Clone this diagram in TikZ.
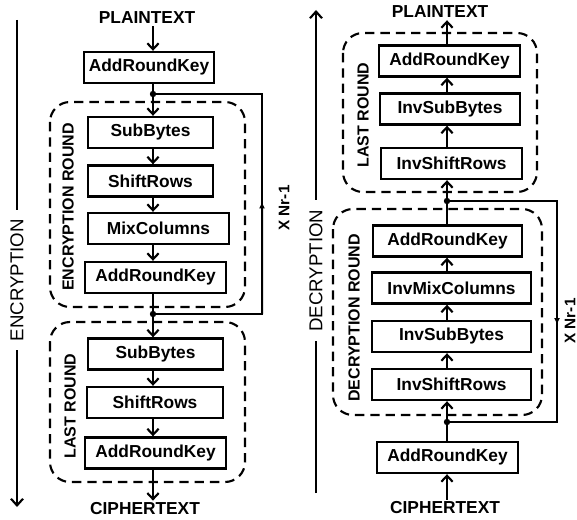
\documentclass[tikz,border=0pt]{standalone}
\usepackage{fontspec}
\setmainfont{Liberation Sans}
\usetikzlibrary{arrows.meta,calc}

\begin{document}
\begin{tikzpicture}[
  x=0.75pt, y=-0.75pt,
  line join=miter,
  font=\bfseries\fontsize{13}{15}\selectfont,
  stage/.style={draw=black, line width=1.8pt, minimum height=23.25pt, inner sep=0pt},
  term/.style={inner sep=1.5pt},
  flow/.style={-{Straight Barb[length=4.5pt,width=8.5pt]}, line width=1.6pt},
  roundbox/.style={draw=black, line width=1.6pt, dash pattern=on 7pt off 4.5pt, rounded corners=15pt},
  loopline/.style={draw=black, line width=1.5pt},
  looptip/.style={-{Latex[length=5pt,width=4.5pt]}, line width=1.5pt},
  tag/.style={rotate=90, font=\bfseries\fontsize{12}{14}\selectfont},
  nrtag/.style={rotate=90, font=\bfseries\fontsize{11.5}{13}\selectfont},
  side/.style={line width=1.6pt},
  sidelabel/.style={rotate=90, fill=white, inner xsep=7pt, inner ysep=2pt, font=\mdseries\fontsize{14}{16}\selectfont}
]
\useasboundingbox (0,0) rectangle (577,520);

% Column axes for the data path.
\coordinate (axL) at (153,0);
\coordinate (axR) at (447,0);

% Round groups.
\draw[roundbox] (50,102) rectangle (245,307);
\draw[roundbox] (50,322) rectangle (245,482);
\draw[roundbox] (343,33) rectangle (537,192);
\draw[roundbox] (333,209) rectangle (542,415);

% Encryption stages.
\node[term] (ptL) at (147,18) {PLAINTEXT};
\node[stage, minimum width=97.5pt] (arkL1) at (149,67.5) {AddRoundKey};
\node[stage, minimum width=93.75pt] (subL1) at (150.5,132.5) {SubBytes};
\node[stage, minimum width=93.75pt] (shiftL1) at (150.5,181) {ShiftRows};
\node[stage, minimum width=105.75pt] (mixL) at (158.5,228.5) {MixColumns};
\node[stage, minimum width=105.75pt] (arkL2) at (155.5,277.5) {AddRoundKey};
\node[stage, minimum width=101.25pt] (subL2) at (155.5,354) {SubBytes};
\node[stage, minimum width=102pt] (shiftL2) at (155,402.5) {ShiftRows};
\node[stage, minimum width=105.75pt] (arkL3) at (155.5,453) {AddRoundKey};
\node[term] (ctL) at (145,509) {CIPHERTEXT};

% Decryption stages.
\node[term] (ptR) at (440,12) {PLAINTEXT};
\node[stage, minimum width=105.75pt] (arkR1) at (449.5,61) {AddRoundKey};
\node[stage, minimum width=105pt] (isbR1) at (450,109) {InvSubBytes};
\node[stage, minimum width=105.75pt] (isrR1) at (451.5,163.5) {InvShiftRows};
\node[stage, minimum width=111.75pt] (arkR2) at (447.5,241) {AddRoundKey};
\node[stage, minimum width=119.25pt] (imcR) at (451.5,288) {InvMixColumns};
\node[stage, minimum width=119.25pt] (isbR2) at (451.5,336.5) {InvSubBytes};
\node[stage, minimum width=119.25pt] (isrR2) at (451.5,384.5) {InvShiftRows};
\node[stage, minimum width=105.75pt] (arkR3) at (447.5,457.5) {AddRoundKey};
\node[term] (ctR) at (445,508) {CIPHERTEXT};

% Group labels.
\node[tag] (encTag) at (68,207) {ENCRYPTION ROUND};
\node[tag] (lastLTag) at (70,406) {LAST ROUND};
\node[tag] (lastRTag) at (363,115) {LAST ROUND};
\node[tag] (decTag) at (354,318) {DECRYPTION ROUND};
\node[nrtag] (nrL) at (284,208) {X Nr-1};
\node[nrtag] (nrR) at (570,321) {X Nr-1};

% Data path.
\foreach \a/\b in {ptL/arkL1, arkL1/subL1, subL1/shiftL1, shiftL1/mixL, mixL/arkL2,
                   arkL2/subL2, subL2/shiftL2, shiftL2/arkL3, arkL3/ctL}{
  \draw[flow] (\a.south -| axL) -- (\b.north -| axL);
}
\foreach \a/\b in {ctR/arkR3, arkR3/isrR2, isrR2/isbR2, isbR2/imcR, imcR/arkR2,
                   arkR2/isrR1, isrR1/isbR1, isbR1/arkR1, arkR1/ptR}{
  \draw[flow] (\a.north -| axR) -- (\b.south -| axR);
}

% Round repetition loops.
\coordinate (dotLt) at (153,94);
\coordinate (dotLb) at (153,314);
\coordinate (cnrLt) at (262,94);
\coordinate (cnrLb) at (262,314);
\draw[loopline] (dotLb) -- (cnrLb) -- (cnrLt) -- (dotLt);
\draw[looptip] (cnrLb) -- ($(cnrLb)!0.51!(cnrLt)$);
\fill (dotLt) circle (2.4pt);
\fill (dotLb) circle (2.4pt);

\coordinate (dotRt) at (447,201);
\coordinate (dotRb) at (447,422);
\coordinate (cnrRt) at (557,201);
\coordinate (cnrRb) at (557,422);
\draw[loopline] (dotRt) -- (cnrRt) -- (cnrRb) -- (dotRb);
\draw[looptip] (cnrRt) -- ($(cnrRt)!0.56!(cnrRb)$);
\fill (dotRt) circle (2.4pt);
\fill (dotRb) circle (2.4pt);

% Direction of each process.
\coordinate (encTop) at (17,20);
\coordinate (encEnd) at (17,507);
\draw[side, -{Straight Barb[length=5pt,width=9pt]}] (encTop) -- node[sidelabel, pos=0.534] (encSide) {ENCRYPTION} (encEnd);

\coordinate (decStart) at (316,493);
\coordinate (decEnd) at (316,10);
\draw[side, -{Straight Barb[length=5pt,width=9pt]}] (decStart) -- node[sidelabel, pos=0.46] (decSide) {DECRYPTION} (decEnd);

\end{tikzpicture}
\end{document}
